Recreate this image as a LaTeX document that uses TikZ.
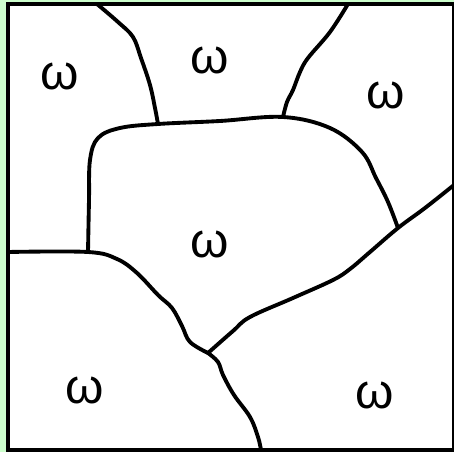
\documentclass[tikz,border=0pt]{standalone}
\usepackage{fontspec}
\setmainfont{Liberation Sans}
\usepackage{tikz}
\usetikzlibrary{positioning}
\definecolor{bggreen}{RGB}{204,255,204}

\begin{document}
\begin{tikzpicture}[x=0.02cm,y=-0.02cm,
    edge/.style={line width=2.2pt,line cap=round,line join=round},
    lbl/.style={font=\fontsize{28}{30}\selectfont,inner sep=0pt}]
        \useasboundingbox (0,0) rectangle (454,452);
        \fill[bggreen] (0,0) rectangle (454,452);
        \draw[line width=2.5pt,fill=white] (8,4) rectangle (454,450);
        % junctions
        \coordinate (tl) at (158,124);
        \coordinate (tr) at (283,117);
        \coordinate (cr) at (398,228);
        \coordinate (cl) at (88,252);
        \coordinate (mid) at (208,353);
        % boundaries
        \draw[edge] plot[smooth,tension=0.6] coordinates {(97,4) (118,22) (133,37) (141,58) (150,85) (155,108) (tl)};
        \draw[edge] plot[smooth,tension=0.6] coordinates {(348,4) (330,32) (308,58) (300,72) (293,90) (287,102) (tr)};
        \draw[edge] plot[smooth,tension=0.6] coordinates {(cl) (89,200) (90,160) (98,138) (120,128) (tl) (220,121) (tr) (330,128) (362,152) (376,178) (388,202) (cr)};
        \draw[edge] plot[smooth,tension=0.6] coordinates {(454,185) (425,208) (cr) (370,252) (350,269) (333,280) (293,298) (250,317) (233,331) (mid)};
        \draw[edge] plot[smooth,tension=0.6] coordinates {(8,252) (cl) (117,259) (137,273) (158,295) (172,308) (182,326) (190,342) (mid)};
        \draw[edge] plot[smooth,tension=0.6] coordinates {(mid) (218,362) (223,375) (234,395) (250,417) (258,437) (261,450)};
        % labels
        \node[lbl] (w1) at (60,76) {ω};
        \node[lbl] (w2) at (210,60) {ω};
        \node[lbl] (w3) at (386,95) {ω};
        \node[lbl] (w4) at (210,244) {ω};
        \node[lbl] (w5) at (85,390) {ω};
        \node[lbl] (w6) at (375,395) {ω};
\end{tikzpicture}
\end{document}
